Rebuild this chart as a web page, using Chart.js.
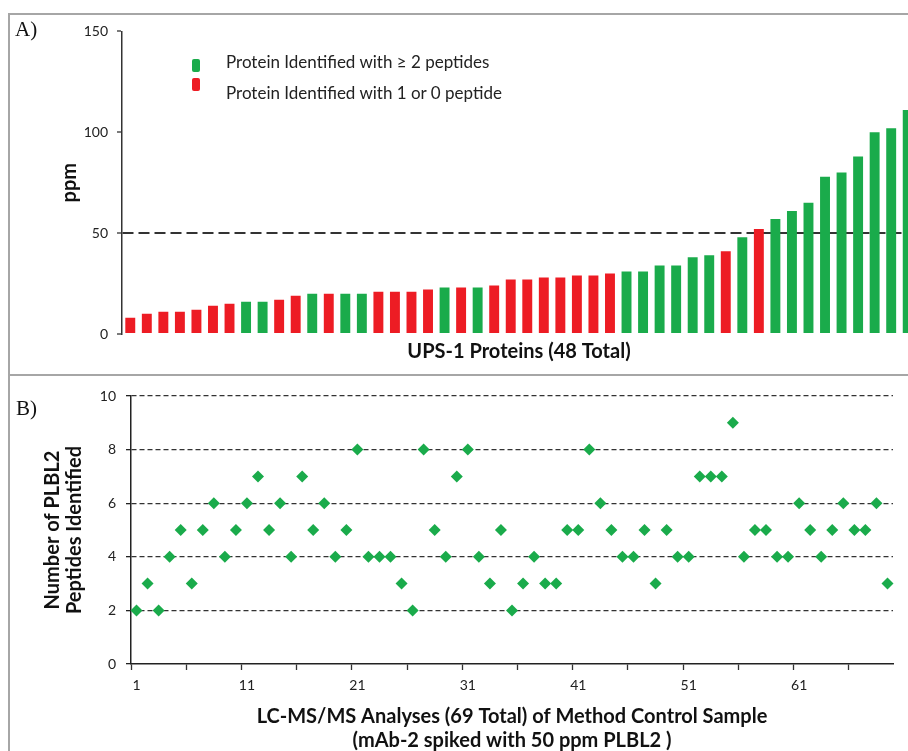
<!DOCTYPE html>
<html>
<head>
<meta charset="utf-8">
<script src="https://cdn.jsdelivr.net/npm/chart.js@4.4.0/dist/chart.umd.min.js"></script>
<style>
  html, body { margin: 0; padding: 0; background: #fff; }
  #page { position: relative; width: 908px; height: 751px; overflow: hidden; font-family: Lato, "Open Sans", sans-serif; }
  .frame { position: absolute; border-color: #a6a6a6; border-style: solid; border-width: 0; }
  #frameA { left: 8px; top: 13px; width: 920px; height: 359px; border-width: 2px 0 2px 2px; }
  #frameB { left: 8px; top: 374px; width: 920px; height: 400px; border-width: 0 0 0 2px; }
  .tag { position: absolute; font-family: "Liberation Serif", serif; font-size: 21px; color: #111; }
  #boxA { position: absolute; left: 0; top: 14px; width: 916px; height: 359px; }
  #boxB { position: absolute; left: 0; top: 373px; width: 908px; height: 380px; }
  .sw { position: absolute; left: 192px; width: 8px; height: 13px; border-radius: 2px; }
  .lt { position: absolute; left: 226px; font-size: 17px; color: #222; white-space: nowrap; line-height: 20px; }
</style>
</head>
<body>
<div id="page">
  <div class="frame" id="frameA"></div>
  <div class="frame" id="frameB"></div>
  <div id="boxA"><canvas id="chartA"></canvas></div>
  <div id="boxB"><canvas id="chartB"></canvas></div>
  <div class="tag" style="left:15px; top:17px;">A)</div>
  <div class="tag" style="left:16px; top:396px;">B)</div>
  <div class="sw" style="top:59px; background:#1aab4b;"></div>
  <div class="sw" style="top:78px; background:#ed1c24;"></div>
  <div class="lt" style="top:52px;">Protein Identified with ≥ 2 peptides</div>
  <div class="lt" style="top:83px;">Protein Identified with 1 or 0 peptide</div>
</div>

<script>
// panel A: UPS-1 proteins, sorted by spiked amount (ppm)
var proteinPpm = [8, 10, 11, 11, 12, 14, 15, 16, 16, 17,
                  19, 20, 20, 20, 20, 21, 21, 21, 22, 23,
                  23, 23, 24, 27, 27, 28, 28, 29, 29, 30,
                  31, 31, 34, 34, 38, 39, 41, 48, 52, 57,
                  61, 65, 78, 80, 88, 100, 102, 111];
// 1 = identified with >= 2 peptides, 0 = identified with 1 or 0 peptide
var twoOrMore = [0, 0, 0, 0, 0, 0, 0, 1, 1, 0,
                 0, 1, 0, 1, 1, 0, 0, 0, 0, 1,
                 0, 1, 0, 0, 0, 0, 0, 0, 0, 0,
                 1, 1, 1, 1, 1, 1, 0, 1, 0, 1,
                 1, 1, 1, 1, 1, 1, 1, 1];
var ppmTicks = [0, 50, 100, 150];
var cutoffPpm = 50;

// panel B: PLBL2 peptides found per LC-MS/MS run
var peptideCounts = [2, 3, 2, 4, 5, 3, 5, 6, 4, 5,
                     6, 7, 5, 6, 4, 7, 5, 6, 4, 5,
                     8, 4, 4, 4, 3, 2, 8, 5, 4, 7,
                     8, 4, 3, 5, 2, 3, 4, 3, 3, 5,
                     5, 8, 6, 5, 4, 4, 5, 3, 5, 4,
                     4, 7, 7, 7, 9, 4, 5, 5, 4, 4,
                     6, 5, 4, 5, 6, 5, 5, 6, 3];
var runTickLabels = ['1', '11', '21', '31', '41', '51', '61'];

var GREEN = '#1aab4b';
var RED = '#ed1c24';

Chart.defaults.font.family = 'Lato, "Open Sans", sans-serif';
Chart.defaults.color = '#222';

function renderProteins() {
  var labels = [];
  for (var i = 0; i < proteinPpm.length; i++) labels.push(String(i + 1));
  var colors = twoOrMore.map(function (f) { return f ? GREEN : RED; });

  new Chart(document.getElementById('chartA'), {
    type: 'bar',
    data: {
      labels: labels,
      datasets: [{
        data: proteinPpm,
        backgroundColor: colors,
        barPercentage: 0.6,
        categoryPercentage: 1.0
      }]
    },
    options: {
      responsive: true,
      maintainAspectRatio: false,
      animation: false,
      events: [],
      layout: { padding: { top: 13, right: 0, bottom: 0, left: 0 } },
      plugins: { legend: { display: false }, tooltip: { enabled: false } },
      scales: {
        x: {
          grid: { display: false },
          border: { display: false },
          ticks: { display: false },
          title: {
            display: true,
            text: 'UPS-1 Proteins (48 Total)',
            color: '#111',
            font: { size: 20, weight: 'bold', lineHeight: 1.2 },
            padding: { top: 0, bottom: 9 }
          },
          afterFit: function (s) { s.height = 39; }
        },
        y: {
          min: 0,
          max: 150,
          afterBuildTicks: function (s) {
            s.ticks = ppmTicks.map(function (v) { return { value: v }; });
          },
          ticks: { font: { size: 14 }, color: '#222', padding: 9 },
          grid: {
            color: function (c) { return c.tick && c.tick.value === cutoffPpm ? '#333' : 'rgba(0,0,0,0)'; },
            lineWidth: 2,
            tickColor: '#333',
            tickWidth: 1.3,
            tickLength: 5
          },
          border: { display: true, color: '#333', width: 1.5, dash: [11, 5] },
          title: {
            display: true,
            text: 'ppm',
            color: '#111',
            font: { size: 20, weight: 'bold', lineHeight: 1.2 },
            padding: { top: 58, bottom: 0 }
          },
          afterFit: function (s) { s.width = 122; }
        }
      }
    }
  });
}

function renderPeptides() {
  var labels = [];
  for (var i = 0; i < peptideCounts.length; i++) labels.push(String(i + 1));

  new Chart(document.getElementById('chartB'), {
    type: 'line',
    data: {
      labels: labels,
      datasets: [{
        data: peptideCounts,
        showLine: false,
        pointStyle: 'rectRot',
        pointRadius: 6,
        pointBackgroundColor: GREEN,
        pointBorderWidth: 0
      }]
    },
    options: {
      responsive: true,
      maintainAspectRatio: false,
      animation: false,
      events: [],
      layout: { padding: { top: 23, right: 15, bottom: 0, left: 0 } },
      plugins: { legend: { display: false }, tooltip: { enabled: false } },
      scales: {
        x: {
          offset: true,
          grid: {
            offset: true,
            drawOnChartArea: false,
            color: function (c) { return c.index % 5 === 0 ? '#333' : 'rgba(0,0,0,0)'; },
            tickLength: 6,
            tickWidth: 1.3
          },
          border: { display: true, color: '#222', width: 1.5 },
          ticks: {
            autoSkip: false,
            maxRotation: 0,
            padding: 7,
            font: { size: 14 },
            color: '#222',
            callback: function (value, index) {
              var l = this.getLabelForValue(value);
              return runTickLabels.indexOf(l) >= 0 ? l : '';
            }
          },
          title: {
            display: true,
            text: ['LC-MS/MS Analyses (69 Total) of Method Control Sample', '(mAb-2 spiked with 50 ppm PLBL2 )'],
            color: '#111',
            font: { size: 20, weight: 'bold', lineHeight: 1.2 },
            padding: { top: 0, bottom: 0 }
          },
          afterFit: function (s) { s.height = 89; }
        },
        y: {
          min: 0,
          max: 10,
          ticks: { stepSize: 2, font: { size: 14 }, color: '#222', padding: 10 },
          grid: {
            color: function (c) { return c.tick && c.tick.value === 0 ? 'rgba(0,0,0,0)' : '#333'; },
            lineWidth: 1.3,
            tickColor: '#222',
            tickWidth: 1.3,
            tickLength: 5
          },
          border: { display: true, color: '#222', width: 1.5, dash: [5, 3] },
          title: {
            display: true,
            text: ['Number of PLBL2', 'Peptides Identified'],
            color: '#111',
            font: { size: 20, weight: 'bold', lineHeight: 1.1 },
            padding: { top: 42, bottom: 0 }
          },
          afterFit: function (s) { s.width = 131; }
        }
      }
    }
  });
}

window.onload = function () {
  renderProteins();
  renderPeptides();
};
</script>
</body>
</html>
